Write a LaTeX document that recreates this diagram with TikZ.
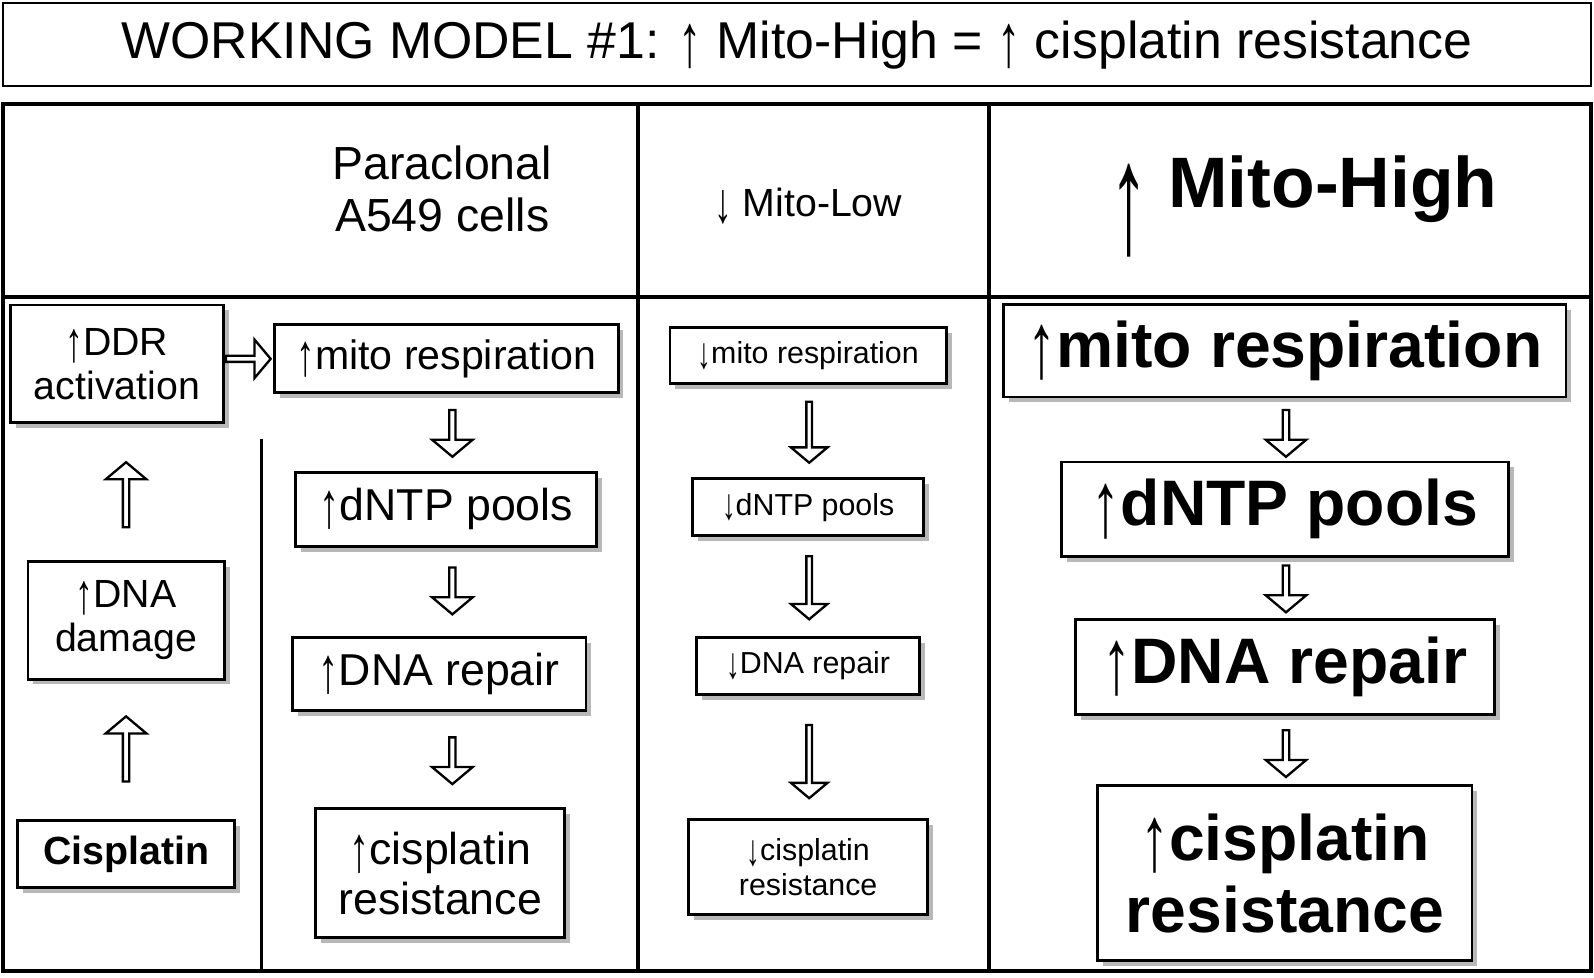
\documentclass[tikz,border=0pt]{standalone}
\usepackage{fontspec}
\setmainfont{Liberation Sans}
\usetikzlibrary{shadows,shapes.arrows}
\newcommand{\fs}[1]{\fontsize{#1}{1.12\dimexpr#1\relax}\selectfont}
\newcommand{\UA}{\raisebox{-0.3ex}{\scalebox{0.9}[1.45]{\mdseries ↑}}}
\newcommand{\DA}{\raisebox{-0.3ex}{\scalebox{0.9}[1.45]{\mdseries ↓}}}
\tikzset{
 bx/.style={draw, line width=1.6pt, fill=white, align=center, inner sep=0pt,
   drop shadow={shadow xshift=3pt, shadow yshift=-3pt, fill=black!35, opacity=0.8}},
 ha/.style={single arrow, draw, line width=1.3pt, fill=white, inner sep=0pt,
   single arrow head extend=3.5pt, single arrow tip angle=100},
 frame/.style={line width=2.2pt}
}
\begin{document}
\begin{tikzpicture}[x=0.02cm,y=-0.02cm]
\useasboundingbox (0,0) rectangle (1568,962);
\node[draw, line width=1.2pt, minimum width=1562*0.02cm, minimum height=82*0.02cm, font=\fs{29pt}] (title) at (784,44) {WORKING MODEL \#1: \UA{} Mito-High = \UA{} cisplatin resistance};
\draw[frame] (3,102) rectangle (1565,955);
\draw[frame] (628,102) -- (628,955) (973,102) -- (973,955) (3,292) -- (1565,292);
\draw[line width=1.6pt] (257,432) -- (257,955);
% headers
\node[align=center, font=\fs{26pt}] (h1) at (435,186) {Paraclonal\\A549 cells};
\node[font=\fs{22pt}] (h2) at (795,203) {\DA{} Mito-Low};
\node[font=\fs{40pt}\bfseries] (h3) at (1282,203) {\raisebox{-1.2ex}{\fontsize{44pt}{44pt}\selectfont\scalebox{1}[2]{\mdseries ↑}} Mito-High};
% left column
\node[bx, minimum width=210*0.02cm, minimum height=116*0.02cm, font=\fs{22pt}] (ddr) at (115,358) {\UA DDR\\activation};
\node[bx, minimum width=193*0.02cm, minimum height=116*0.02cm, font=\fs{22pt}] (dmg) at (124,610) {\UA DNA\\damage};
\node[bx, minimum width=214*0.02cm, minimum height=66*0.02cm, font=\fs{22pt}\bfseries] (cis) at (124,840) {Cisplatin};
\node[ha, minimum height=64*0.02cm, minimum width=40*0.02cm, rotate=90] (u1) at (124,488) {};
\node[ha, minimum height=64*0.02cm, minimum width=40*0.02cm, rotate=90] (u2) at (124,738) {};
\node[ha, minimum height=44*0.02cm, minimum width=38*0.02cm] (r1) at (243,353) {};
% column 2
\node[bx, minimum width=338*0.02cm, minimum height=67*0.02cm, font=\fs{23pt}] (a1) at (439,353) {\UA mito respiration};
\node[bx, minimum width=296*0.02cm, minimum height=73*0.02cm, font=\fs{25pt}] (a2) at (439,501) {\UA dNTP pools};
\node[bx, minimum width=289*0.02cm, minimum height=72*0.02cm, font=\fs{25pt}] (a3) at (432,663) {\UA DNA repair};
\node[bx, minimum width=245*0.02cm, minimum height=127*0.02cm, font=\fs{25pt}] (a4) at (433,859) {\UA cisplatin\\resistance};
\foreach \y/\n in {425/d1,580/d2,747/d3}
  \node[ha, minimum height=46*0.02cm, minimum width=40*0.02cm, rotate=-90] (\n) at (445,\y) {};
% column 3
\node[bx, minimum width=272*0.02cm, minimum height=55*0.02cm, font=\fs{17pt}] (b1) at (795,350) {\DA mito respiration};
\node[bx, minimum width=227*0.02cm, minimum height=56*0.02cm, font=\fs{17pt}] (b2) at (795,499) {\DA dNTP pools};
\node[bx, minimum width=219*0.02cm, minimum height=56*0.02cm, font=\fs{17pt}] (b3) at (795,655) {\DA DNA repair};
\node[bx, minimum width=235*0.02cm, minimum height=93*0.02cm, font=\fs{17pt}] (b4) at (795,853) {\DA cisplatin\\resistance};
\node[ha, minimum height=60*0.02cm, minimum width=36*0.02cm, rotate=-90] (e1) at (796,424) {};
\node[ha, minimum height=62*0.02cm, minimum width=36*0.02cm, rotate=-90] (e2) at (796,577) {};
\node[ha, minimum height=72*0.02cm, minimum width=36*0.02cm, rotate=-90] (e3) at (796,748) {};
% column 4
\node[bx, minimum width=553*0.02cm, minimum height=91*0.02cm, font=\fs{36pt}\bfseries] (c1) at (1264,345) {\UA mito respiration};
\node[bx, minimum width=440*0.02cm, minimum height=93*0.02cm, font=\fs{36pt}\bfseries] (c2) at (1264,501) {\UA dNTP pools};
\node[bx, minimum width=412*0.02cm, minimum height=93*0.02cm, font=\fs{36pt}\bfseries] (c3) at (1264,656) {\UA DNA repair};
\node[bx, minimum width=368*0.02cm, minimum height=172*0.02cm, font=\fs{36pt}\bfseries] (c4) at (1264,859) {\UA cisplatin\\resistance};
\foreach \y/\n in {425/f1,578/f2,740/f3}
  \node[ha, minimum height=46*0.02cm, minimum width=40*0.02cm, rotate=-90] (\n) at (1265,\y) {};
\end{tikzpicture}
\end{document}
